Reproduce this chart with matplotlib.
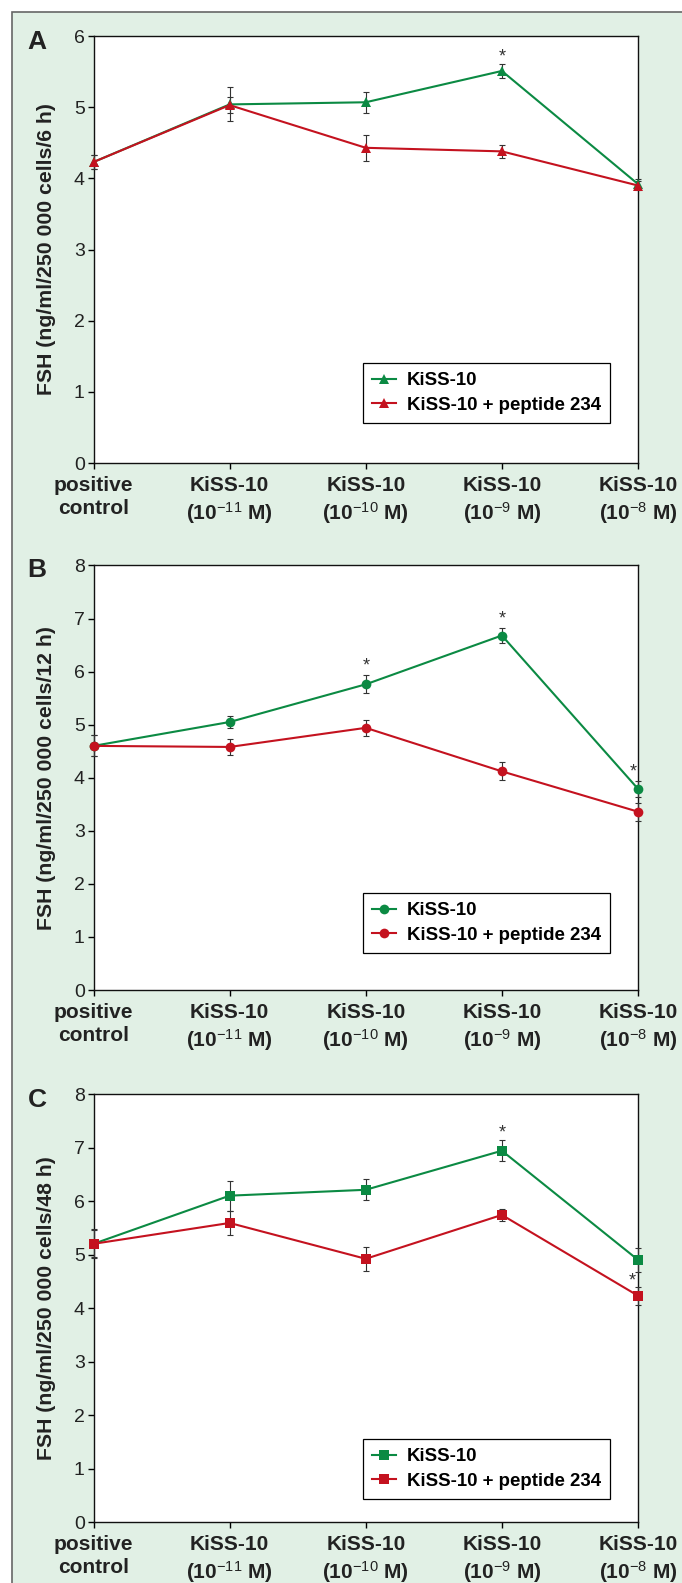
import matplotlib
matplotlib.use('Agg')
import matplotlib.pyplot as plt
from matplotlib import font_manager
from matplotlib.patches import Rectangle

names = {f.name for f in font_manager.fontManager.ttflist}
narrow = 'Liberation Sans Narrow' if 'Liberation Sans Narrow' in names else 'Liberation Sans'

plt.rcParams['font.family'] = ['Liberation Sans', 'DejaVu Sans']
plt.rcParams['mathtext.fontset'] = 'custom'
plt.rcParams['mathtext.rm'] = 'Liberation Sans'
plt.rcParams['mathtext.bf'] = 'Liberation Sans:bold'
plt.rcParams['mathtext.it'] = 'Liberation Sans:italic'

green = '#0b8a43'
red = '#c4121f'
bg = '#e1f0e5'

# x categories
doses = ['positive\ncontrol', 'KiSS-10\n(10$^{-11}$ M)', 'KiSS-10\n(10$^{-10}$ M)',
         'KiSS-10\n(10$^{-9}$ M)', 'KiSS-10\n(10$^{-8}$ M)']
series_names = ['KiSS-10', 'KiSS-10 + peptide 234']

### A: 6 h ###
kiss_6h = [4.23, 5.04, 5.07, 5.51, 3.92]
kiss_6h_err = [0.10, 0.24, 0.15, 0.10, 0.07]
pep_6h = [4.23, 5.03, 4.43, 4.38, 3.90]
pep_6h_err = [0.10, 0.11, 0.18, 0.09, 0.06]
stars_6h_x = [3]
stars_6h_y = [5.71]

### B: 12 h ###
kiss_12h = [4.60, 5.05, 5.76, 6.68, 3.79]
kiss_12h_err = [0.20, 0.11, 0.17, 0.14, 0.15]
pep_12h = [4.60, 4.58, 4.94, 4.12, 3.36]
pep_12h_err = [0.20, 0.15, 0.15, 0.17, 0.17]
stars_12h_x = [2, 3, 3.963]
stars_12h_y = [6.10, 7.00, 4.10]

### C: 48 h ###
kiss_48h = [5.20, 6.10, 6.21, 6.94, 4.90]
kiss_48h_err = [0.27, 0.28, 0.20, 0.20, 0.23]
pep_48h = [5.20, 5.59, 4.92, 5.74, 4.23]
pep_48h_err = [0.25, 0.22, 0.22, 0.12, 0.17]
stars_48h_x = [3, 3.956]
stars_48h_y = [7.28, 4.51]

panels = [
    ('A', '6 h', 6, kiss_6h, kiss_6h_err, pep_6h, pep_6h_err, stars_6h_x, stars_6h_y,
     '^', 7.0, [0.1371, 0.7075, 0.7984, 0.2697], 0.9735, 0.0937),
    ('B', '12 h', 8, kiss_12h, kiss_12h_err, pep_12h, pep_12h_err, stars_12h_x, stars_12h_y,
     'o', 7.0, [0.1371, 0.3746, 0.7984, 0.2682], 0.6400, 0.0872),
    ('C', '48 h', 8, kiss_48h, kiss_48h_err, pep_48h, pep_48h_err, stars_48h_x, stars_48h_y,
     's', 7.3, [0.1371, 0.0385, 0.7984, 0.2704], 0.3052, 0.0537),
]

fig = plt.figure(figsize=(6.82, 15.83), dpi=100)
fig.patch.set_facecolor('white')
frame = Rectangle((12 / 682, -0.1), 2, 1 - 12 / 1583 + 0.1, transform=fig.transFigure,
                  facecolor=bg, edgecolor='#666666', linewidth=1.2, zorder=-10)
fig.patches.append(frame)

x = list(range(len(doses)))

for (tag, hours, ymax, g, ge, r, re, sx, sy, mk, ms, rect, tag_y, leg_y) in panels:
    ax = fig.add_axes(rect)
    ax.set_facecolor('white')

    for vals, errs, col, lab in [(g, ge, green, series_names[0]), (r, re, red, series_names[1])]:
        ax.errorbar(x, vals, yerr=errs, fmt='none', ecolor='#333333', elinewidth=0.8,
                    capsize=2, capthick=0.8, clip_on=False, zorder=3)
        ax.plot(x, vals, '-', color=col, lw=1.5, marker=mk, ms=ms, mew=0,
                label=lab, clip_on=False, zorder=4)

    for xs_, ys_ in zip(sx, sy):
        ax.text(xs_, ys_, '*', ha='center', va='center', fontsize=13, color='#333333')

    ax.set_xlim(0, 4)
    ax.set_ylim(0, ymax)
    ax.set_yticks(range(ymax + 1))
    ax.set_yticklabels([str(v) for v in range(ymax + 1)], family=narrow, fontsize=14,
                       color='#222222')
    ax.set_xticks(x)
    ax.set_xticklabels(doses, fontsize=15, fontweight='bold', linespacing=1.3,
                       color='#222222')
    ax.tick_params(axis='y', direction='out', length=4.3, width=1, pad=2)
    ax.tick_params(axis='x', direction='out', length=4, width=1, pad=5)
    for sp in ax.spines.values():
        sp.set_linewidth(1.0)
        sp.set_color('#111111')

    ax.set_ylabel('FSH (ng/ml/250 000 cells/%s)' % hours, fontsize=15.3, fontweight='bold',
                  color='#222222')
    ax.yaxis.set_label_coords(-0.068, 0.5)

    leg = ax.legend(loc='lower right', bbox_to_anchor=(0.9486, leg_y), borderaxespad=0,
                    fancybox=False, framealpha=1, edgecolor='black',
                    prop={'weight': 'bold', 'size': 13.4},
                    handlelength=1.3, handletextpad=0.55, labelspacing=0.4,
                    borderpad=0.5)
    leg.get_frame().set_linewidth(0.9)

    fig.text(0.0543, tag_y, tag, fontsize=19, fontweight='bold', ha='center', va='center',
             color='#222222')

fig.savefig('out.png', dpi=100)
